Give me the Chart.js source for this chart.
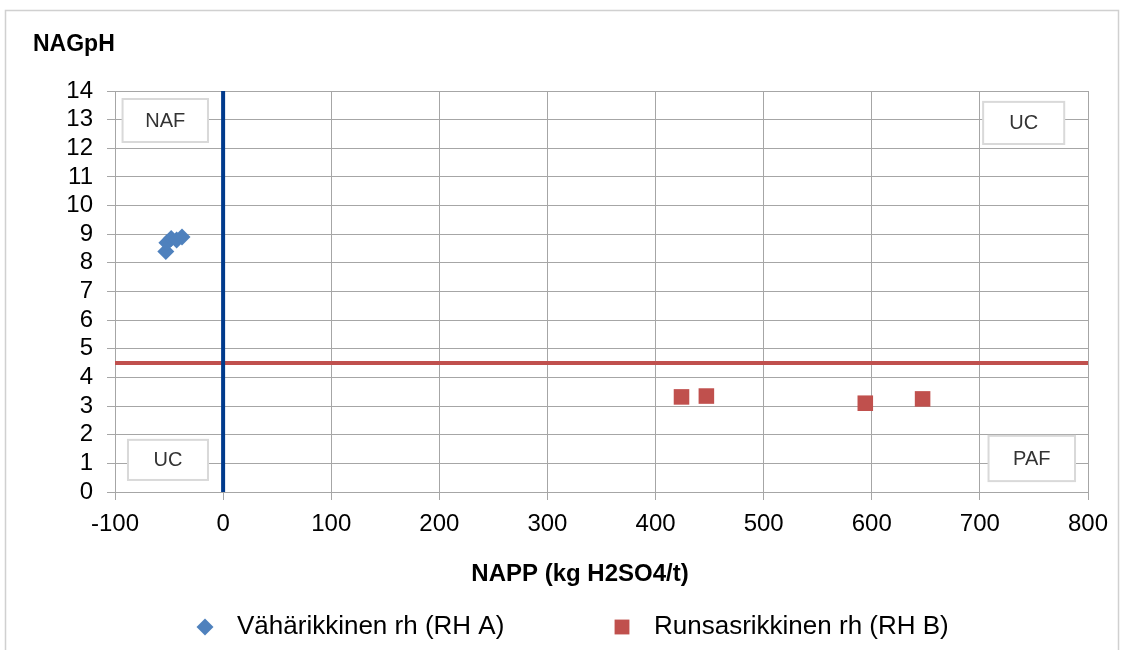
<!DOCTYPE html>
<html>
<head>
<meta charset="utf-8">
<script src="https://cdn.jsdelivr.net/npm/chart.js@4/dist/chart.umd.min.js"></script>
<style>
  html, body { margin: 0; padding: 0; background: #fff; }
  #wrap { width: 1126px; height: 650px; }
</style>
</head>
<body>
<div id="wrap"><canvas id="chart" width="1126" height="650"></canvas></div>
<script>
// Data
const seriesNames = ['Vähärikkinen rh (RH A)', 'Runsasrikkinen rh (RH B)'];
const rhA_napp = [-53, -52, -48, -43, -38];
const rhA_nagph = [8.4, 8.7, 8.85, 8.8, 8.9];
const rhB_napp = [424, 447, 594, 647];
const rhB_nagph = [3.32, 3.35, 3.1, 3.25];

// Classification thresholds
const nappLimit = 0;
const nagphLimit = 4.5;

const xMin = -100, xMax = 800, xStep = 100;
const yMin = 0, yMax = 14, yStep = 1;

const yTitle = 'NAGpH';
const xTitle = 'NAPP (kg H2SO4/t)';

// Quadrant label boxes (data coords: x1, x2, y1, y2)
const quadrants = [
    { text: 'NAF', box: [-93, -14, 13.72, 12.22] },
    { text: 'UC', box: [703, 778, 13.62, 12.15] },
    { text: 'UC', box: [-88, -14, 1.82, 0.42] },
    { text: 'PAF', box: [708, 788, 1.96, 0.38] }
];

const toPoints = (xs, ys) => xs.map((x, i) => ({ x, y: ys[i] }));

const BLUE = '#4F81BD';
const RED = '#C0504D';
const FONT = "'Liberation Sans', Arial, sans-serif";

const extras = {
    id: 'extras',
    beforeDraw(chart) {
        const ctx = chart.ctx;
        ctx.save();
        ctx.strokeStyle = '#d0d0d0';
        ctx.lineWidth = 1.5;
        ctx.strokeRect(5.5, 10.5, 1113, 700);
        ctx.restore();
    },
    afterDraw(chart) {
        const ctx = chart.ctx;
        const xs = chart.scales.x, ys = chart.scales.y;
        ctx.save();

        // axis titles
        ctx.fillStyle = '#000';
        ctx.textBaseline = 'middle';
        ctx.font = 'bold 23px ' + FONT;
        ctx.textAlign = 'left';
        ctx.fillText(yTitle, 33, 45);
        ctx.font = 'bold 24px ' + FONT;
        ctx.textAlign = 'center';
        ctx.fillText(xTitle, 580, 574);

        // quadrant labels
        ctx.font = '20px ' + FONT;
        quadrants.forEach(q => {
            const x1 = xs.getPixelForValue(q.box[0]);
            const x2 = xs.getPixelForValue(q.box[1]);
            const y1 = ys.getPixelForValue(q.box[2]);
            const y2 = ys.getPixelForValue(q.box[3]);
            ctx.fillStyle = '#fff';
            ctx.fillRect(x1, y1, x2 - x1, y2 - y1);
            ctx.strokeStyle = '#d9d9d9';
            ctx.lineWidth = 2;
            ctx.strokeRect(x1, y1, x2 - x1, y2 - y1);
            ctx.fillStyle = '#333';
            ctx.fillText(q.text, (x1 + x2) / 2, (y1 + y2) / 2 + 1);
        });

        // legend
        ctx.font = '26px ' + FONT;
        ctx.textAlign = 'left';
        const legendY = 627;
        const legendItems = [
            { ds: chart.data.datasets[0], x: 205 },
            { ds: chart.data.datasets[1], x: 622 }
        ];
        legendItems.forEach(it => {
            ctx.fillStyle = it.ds.backgroundColor;
            ctx.strokeStyle = it.ds.backgroundColor;
            Chart.helpers.drawPoint(ctx, {
                pointStyle: it.ds.pointStyle,
                radius: it.ds.pointStyle === 'rect' ? 10.5 : 8.5,
                borderWidth: 0
            }, it.x, legendY);
            ctx.fillStyle = '#000';
            ctx.fillText(it.ds.label, it.x + 32, legendY);
        });
        ctx.restore();
    }
};

new Chart(document.getElementById('chart'), {
    type: 'scatter',
    data: {
        datasets: [
            {
                label: seriesNames[0],
                data: toPoints(rhA_napp, rhA_nagph),
                pointStyle: 'rectRot',
                pointRadius: 8.5,
                backgroundColor: BLUE,
                borderColor: BLUE,
                borderWidth: 0,
                order: 1
            },
            {
                label: seriesNames[1],
                data: toPoints(rhB_napp, rhB_nagph),
                pointStyle: 'rect',
                pointRadius: 11,
                backgroundColor: RED,
                borderColor: RED,
                borderWidth: 0,
                order: 1
            },
            {
                label: 'nagph-limit',
                data: [{ x: xMin, y: nagphLimit }, { x: xMax, y: nagphLimit }],
                showLine: true,
                pointRadius: 0,
                borderColor: RED,
                borderWidth: 4,
                order: 3
            },
            {
                label: 'napp-limit',
                data: [{ x: nappLimit, y: yMin }, { x: nappLimit, y: yMax }],
                showLine: true,
                pointRadius: 0,
                borderColor: '#003A8C',
                borderWidth: 4,
                order: 2
            }
        ]
    },
    options: {
        responsive: false,
        animation: false,
        layout: { padding: { top: 91, left: 0, right: 38, bottom: 58 } },
        plugins: {
            legend: { display: false },
            tooltip: { enabled: false }
        },
        scales: {
            x: {
                type: 'linear',
                min: xMin, max: xMax,
                ticks: { stepSize: xStep, autoSkip: false, maxRotation: 0, color: '#000', font: { family: FONT, size: 24 }, padding: 10 },
                grid: { color: '#a6a6a6', lineWidth: 1, tickLength: 8 },
                border: { color: '#a6a6a6' },
                afterFit(scale) { scale.height = 100; }
            },
            y: {
                type: 'linear',
                min: yMin, max: yMax,
                ticks: { stepSize: yStep, autoSkip: false, color: '#000', font: { family: FONT, size: 24 }, padding: 14 },
                grid: { color: '#a6a6a6', lineWidth: 1, tickLength: 8 },
                border: { color: '#a6a6a6' },
                afterFit(scale) { scale.width = 115; }
            }
        }
    },
    plugins: [extras]
});
</script>
</body>
</html>
